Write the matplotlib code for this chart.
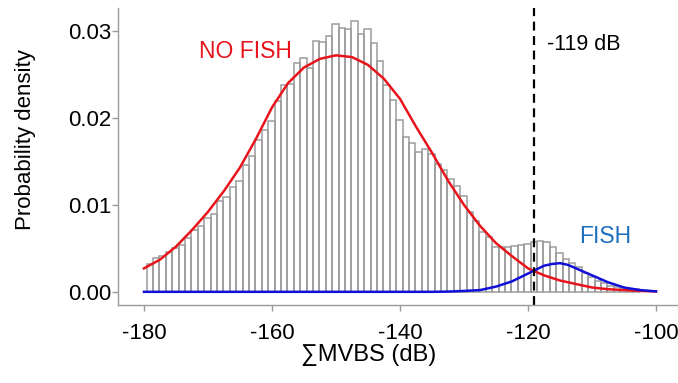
import matplotlib
matplotlib.use("Agg")
import matplotlib.pyplot as plt
import numpy as np

plt.rcParams['font.family'] = ['Liberation Sans', 'DejaVu Sans']
plt.rcParams['axes.unicode_minus'] = False

# histogram: 1 dB bins starting at -179.6 dB
bin_start = -179.6
bin_width = 1.0
hist_density = [
    0.0032, 0.0039, 0.0041, 0.0046, 0.0050, 0.0054, 0.0062, 0.0071, 0.0076, 0.0085,
    0.0089, 0.0104, 0.0109, 0.0120, 0.0128, 0.0146, 0.0156, 0.0175, 0.0186, 0.0196,
    0.0219, 0.0238, 0.0239, 0.0263, 0.0269, 0.0258, 0.0289, 0.0287, 0.0294, 0.0308,
    0.0304, 0.0302, 0.0311, 0.0296, 0.0302, 0.0286, 0.0265, 0.0238, 0.0221, 0.0198,
    0.0178, 0.0171, 0.0161, 0.0164, 0.0159, 0.0147, 0.0140, 0.0130, 0.0122, 0.0110,
    0.0092, 0.0081, 0.0069, 0.0063, 0.0052, 0.0051, 0.0052, 0.0053, 0.0054, 0.0055,
    0.0057, 0.0058, 0.0057, 0.0052, 0.0045, 0.0038, 0.0033, 0.0028, 0.0022, 0.0017,
    0.0013, 0.0010, 0.0007, 0.0005, 0.0004, 0.0003, 0.0003,
]

# fitted curve for "no fish" (red)
nofish_x = [-180, -177.5, -175, -172.5, -170, -167.5, -165, -162.5, -160, -157.5,
            -155, -152.5, -150, -147.5, -145, -142.5, -140, -137.5, -135, -132.5,
            -130, -127.5, -125, -122.5, -120, -117.5, -115, -112.5, -110, -107.5,
            -105, -102.5, -100]
nofish_y = [0.0027, 0.0037, 0.0052, 0.0071, 0.0092, 0.0116, 0.0143, 0.0176, 0.0212, 0.0240,
            0.0258, 0.0268, 0.0272, 0.0270, 0.0261, 0.0245, 0.0222, 0.0190, 0.0160, 0.0128,
            0.0100, 0.0076, 0.0056, 0.0041, 0.0027, 0.0019, 0.0013, 0.0009, 0.0005, 0.0003,
            0.0002, 0.0001, 0.00005]

# fitted curve for "fish" (blue)
fish_x = [-180, -135, -132.5, -130, -127.5, -125, -122.5, -120, -117.5, -116.25,
          -115, -113.75, -112.5, -110, -107.5, -105, -102.5, -100]
fish_y = [0.0, 0.0, 0.00003, 0.0001, 0.0002, 0.0006, 0.0012, 0.0021, 0.0030, 0.0032,
          0.0033, 0.0031, 0.0027, 0.0019, 0.0011, 0.0005, 0.0002, 0.00005]

threshold = -119

fig = plt.figure(figsize=(6.78, 3.83), dpi=100)
ax = fig.add_axes([0.174, 0.204, 0.826, 0.775])

lefts = bin_start + bin_width * np.arange(len(hist_density))
ax.bar(lefts, hist_density, width=bin_width, align='edge', fill=False,
       edgecolor='#9c9c9c', linewidth=1.1)
ax.plot(nofish_x, nofish_y, color='#e8141c', linewidth=1.8)
ax.plot(fish_x, fish_y, color='#1010d8', linewidth=1.8)
ax.axvline(threshold, color='black', linestyle=(0, (4, 2.5)), linewidth=1.6)

ax.text(-164.1, 0.0276, 'NO FISH', color='#e8141c', fontsize=16.5, ha='center', va='center')
ax.text(-108.0, 0.0064, 'FISH', color='#1f6fbf', fontsize=16.5, ha='center', va='center')
ax.text(-117.0, 0.0284, '-119 dB', color='black', fontsize=15.5, ha='left', va='center')

ax.set_xlim(-184.06, -96.56)
ax.set_ylim(-0.0015, 0.03264)
ax.set_xticks([-180, -160, -140, -120, -100])
ax.set_yticks([0.0, 0.01, 0.02, 0.03])
ax.set_yticklabels(['0.00', '0.01', '0.02', '0.03'])

for side in ['top', 'right']:
    ax.spines[side].set_visible(False)
for side in ['left', 'bottom']:
    ax.spines[side].set_color('#9a9a9a')
    ax.spines[side].set_linewidth(1.0)
ax.tick_params(colors='#9a9a9a', labelcolor='black', labelsize=16, length=4, width=1)
ax.tick_params(axis='y', pad=1)
ax.tick_params(axis='x', pad=9)

ax.set_xlabel('∑MVBS (dB)', fontsize=17)
ax.set_ylabel('Probability density', fontsize=16)
ax.xaxis.set_label_coords(0.448, -0.168)
ax.yaxis.set_label_coords(-0.166, 0.556)
ax.xaxis.label.set_va('center')
ax.yaxis.label.set_va('center')

fig.savefig('out.png', dpi=100)
